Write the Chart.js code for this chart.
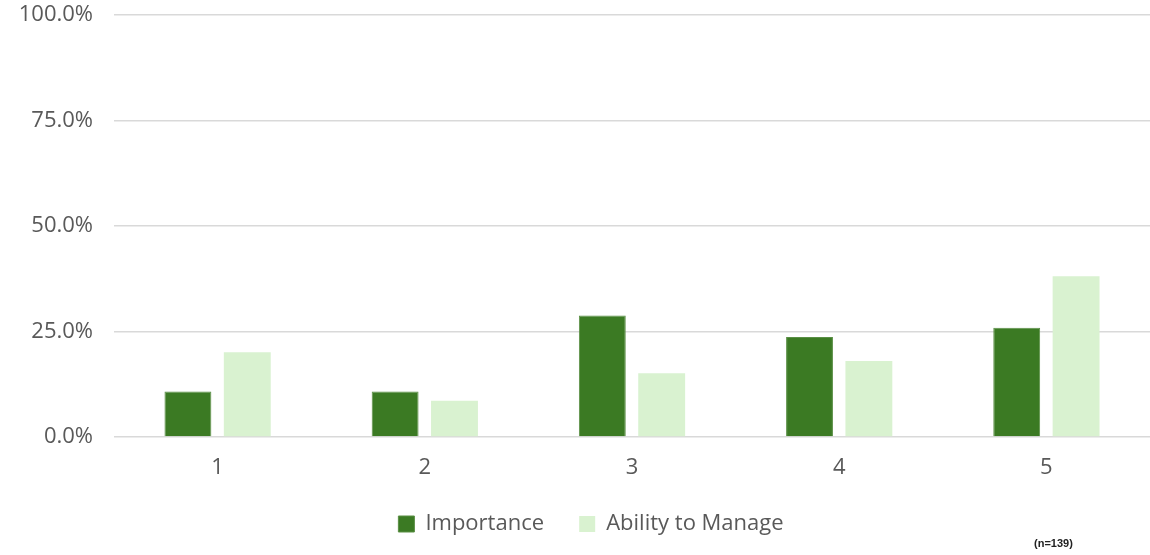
<!DOCTYPE html>
<html>
<head>
<meta charset="utf-8">
<script src="https://cdn.jsdelivr.net/npm/chart.js@4.4.1/dist/chart.umd.min.js"></script>
<style>
  html, body { margin: 0; padding: 0; background: #ffffff; }
  #wrap { width: 1150px; height: 555px; position: relative; }
</style>
</head>
<body>
<div id="wrap"><canvas id="c" width="1150" height="555"></canvas></div>
<script>
const categories = ['1', '2', '3', '4', '5'];
const importance = [10.8, 10.8, 28.8, 23.7, 25.9];
const abilityToManage = [20.1, 8.6, 15.1, 18.0, 38.1];
const seriesNames = ['Importance', 'Ability to Manage'];
const yTicks = [0, 25, 50, 75, 100];
const footnote = '(n=139)';

const textColor = '#595959';
const fontFamily = '"Open Sans", "Liberation Sans", sans-serif';

const footnotePlugin = {
  id: 'footnote',
  afterLayout(chart) {
    if (chart.legend) chart.legend.left += 32;
  },
  afterDraw(chart) {
    const ctx = chart.ctx;
    ctx.save();
    ctx.font = 'bold 11px "Liberation Sans", Arial, sans-serif';
    ctx.fillStyle = '#222222';
    ctx.textAlign = 'left';
    ctx.textBaseline = 'middle';
    ctx.fillText(footnote, 1034, 544);
    ctx.restore();
  }
};

new Chart(document.getElementById('c'), {
  type: 'bar',
  data: {
    labels: categories,
    datasets: [
      { label: seriesNames[0], data: importance, backgroundColor: '#3b7a23', borderColor: '#5a8f45', borderWidth: 1 },
      { label: seriesNames[1], data: abilityToManage, backgroundColor: '#d9f2d0', borderWidth: 0 }
    ]
  },
  options: {
    responsive: false,
    animation: false,
    datasets: { bar: { categoryPercentage: 0.573, barPercentage: 0.79 } },
    layout: { padding: { top: 15, right: 0, bottom: 10, left: 0 } },
    scales: {
      y: {
        min: 0, max: 100,
        afterBuildTicks(scale) { scale.ticks = yTicks.map(v => ({ value: v })); },
        afterFit(scale) { scale.width = 114; scale.paddingTop = 0; scale.paddingBottom = 0; },
        ticks: {
          padding: 21,
          color: textColor,
          font: { family: fontFamily, size: 22 },
          callback: v => v.toFixed(1) + '%'
        },
        grid: { color: '#d9d9d9', lineWidth: 1.5, drawTicks: false },
        border: { display: false }
      },
      x: {
        afterFit(scale) { scale.height = 58; },
        ticks: { padding: 18, color: textColor, font: { family: fontFamily, size: 22 } },
        grid: { display: false, drawTicks: false },
        border: { display: false }
      }
    },
    plugins: {
      legend: {
        position: 'bottom',
        labels: {
          boxWidth: 16, boxHeight: 16, padding: 18,
          color: textColor,
          font: { family: fontFamily, size: 22 },
          generateLabels(chart) {
            const items = Chart.defaults.plugins.legend.labels.generateLabels(chart);
            if (items.length) items[0].text = items[0].text + '   ';
            return items;
          }
        }
      },
      tooltip: { enabled: false }
    }
  },
  plugins: [footnotePlugin]
});
</script>
</body>
</html>
